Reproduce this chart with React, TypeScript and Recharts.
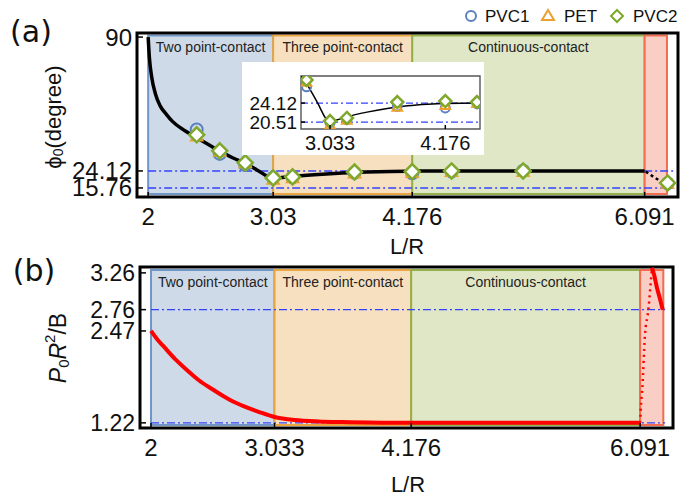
import React from "react";
import {
  ComposedChart,
  Line,
  Scatter,
  XAxis,
  YAxis,
  ReferenceArea,
  ReferenceLine,
} from "recharts";

// ---- data ----
// (a) contact angle curve
const curveX = [2.0, 2.01, 2.03, 2.06, 2.1, 2.15, 2.2, 2.3, 2.4, 2.5, 2.6, 2.7, 2.8, 2.9, 3.03, 3.1, 3.2, 3.4, 3.6, 3.8, 4.0, 4.176, 4.5, 5.0, 5.5, 6.091];
const curvePhi = [90, 80, 70, 62, 56, 52, 48.5, 44, 40.5, 37, 33.5, 30.5, 27.8, 24.5, 20.51, 20.9, 21.5, 22.4, 23.1, 23.6, 23.9, 24.05, 24.12, 24.12, 24.12, 24.12];
const tailX = [6.1, 6.14, 6.18, 6.22, 6.26];
const tailPhi = [23.8, 22.2, 20.6, 19.2, 18.3];

// experimental samples
const sampleX = [2.4, 2.59, 2.8, 3.03, 3.19, 3.7, 4.176, 4.5, 5.09, 6.28];
const pvc1Phi = [44.5, 32.5, 27.0, 20.8, 21.0, 23.2, 23.0, 23.8, 24.2, 18.0];
const petPhi = [41.0, 33.5, 27.8, 19.8, 20.5, 22.8, 23.0, 23.6, 23.6, 17.8];
const pvc2Phi = [41.9, 34.0, 28.1, 20.7, 21.2, 23.6, 23.8, 24.1, 24.1, 18.2];

// inset samples
const insetX = [2.8, 3.033, 3.2, 3.7, 4.176, 4.49];
const insetPvc1 = [27.2, 20.4, 21.0, 23.5, 23.2, 24.0];
const insetPet = [28.0, 19.9, 20.8, 23.3, 23.6, 24.0];
const insetPvc2 = [28.5, 20.7, 21.3, 24.3, 24.5, 24.3];

// (b) pressure curve
const pX = [2.0, 2.05, 2.1, 2.2, 2.3, 2.4, 2.5, 2.6, 2.7, 2.8, 2.9, 3.033, 3.1, 3.2, 3.4, 3.6, 4.0, 4.176, 5.0, 6.091];
const pVal = [2.47, 2.36, 2.27, 2.09, 1.94, 1.8, 1.69, 1.59, 1.5, 1.43, 1.37, 1.3, 1.28, 1.26, 1.24, 1.23, 1.222, 1.22, 1.22, 1.22];
const pDotX = [6.091, 6.1, 6.11, 6.13, 6.16, 6.18, 6.19];
const pDotVal = [1.22, 1.5, 1.7, 2.38, 2.76, 3.13, 3.33];
const pBranchX = [6.19, 6.21, 6.23, 6.255, 6.28];
const pBranchVal = [3.33, 3.22, 3.07, 2.92, 2.76];

// regimes
const edgesA = [2, 3.03, 4.176, 6.091, 6.275];
const edgesB = [2, 3.033, 4.176, 6.091, 6.285];
const regimeNames = ["Two point-contact", "Three point-contact", "Continuous-contact", ""];

const ticksXA = [2, 3.03, 4.176, 6.091];
const ticksXB = [2, 3.033, 4.176, 6.091];
const ticksYA = [15.76, 24.12, 90];
const ticksYB = [1.22, 2.47, 2.76, 3.26];
const ticksXInset = [3.033, 4.176];
const ticksYInset = [20.51, 24.12];
const guideA = [24.12, 15.76];
const guideB = [2.76, 1.22];
const guideInset = [24.12, 20.51];

// ---- styles ----
const NUM_FONT = "'Liberation Sans', Arial, sans-serif";
const NOTE_FONT = "'Liberation Sans', Arial, sans-serif";
const regimeFill = ["#cfdae9", "#f7e0bf", "#dfe7c6", "#f9cfc5"];
const regimeStroke = ["#7295c8", "#e9a53f", "#93b049", "#f26c4f"];
const GUIDE = "#3342ff";
const C_PVC1 = "#5b80c2";
const C_PET = "#eba12f";
const C_PVC2 = "#7fa82c";

const pts = (xs: number[], ys: number[]) => xs.map((x, i) => ({ x, y: ys[i] }));

const circleShape = (r: number) => (p: any) => (
  <circle cx={p.cx} cy={p.cy} r={r} fill="none" stroke={C_PVC1} strokeWidth={2} />
);
const triShape = (s: number) => (p: any) => (
  <polygon
    points={`${p.cx},${p.cy - s} ${p.cx - s * 0.95},${p.cy + s * 0.65} ${p.cx + s * 0.95},${p.cy + s * 0.65}`}
    fill="none"
    stroke={C_PET}
    strokeWidth={2}
  />
);
const diamondShape = (s: number) => (p: any) => (
  <polygon
    points={`${p.cx},${p.cy - s} ${p.cx + s},${p.cy} ${p.cx},${p.cy + s} ${p.cx - s},${p.cy}`}
    fill="#fff"
    stroke={C_PVC2}
    strokeWidth={2.5}
  />
);

const yTick = (size: number, gap: number, inward: number) => (p: any) => (
  <g>
    <text x={p.x} y={p.y} textAnchor="end" dominantBaseline="central" fontSize={size} fontFamily={NUM_FONT} fill="#111">
      {p.payload.value}
    </text>
    <line x1={p.x + gap} x2={p.x + gap + inward} y1={p.y} y2={p.y} stroke="#000" strokeWidth={1.5} />
  </g>
);
const xTick = (size: number, drop: number, inward: number) => (p: any) => (
  <g>
    <text x={p.x} y={p.y + drop} textAnchor="middle" fontSize={size} fontFamily={NUM_FONT} fill="#111">
      {p.payload.value}
    </text>
    <line x1={p.x} x2={p.x} y1={p.y} y2={p.y - inward} stroke="#000" strokeWidth={1.5} />
  </g>
);

function regimeAreas(edges: number[], y1: number, y2: number) {
  return regimeNames.map((name, i) => (
    <ReferenceArea
      key={"r" + i}
      x1={edges[i]}
      x2={edges[i + 1]}
      y1={y1}
      y2={y2}
      fill={regimeFill[i]}
      fillOpacity={1}
      stroke={regimeStroke[i]}
      strokeWidth={2}
      ifOverflow="visible"
      label={
        name
          ? { value: name, position: "insideTop", offset: 7, fill: "#222", fontSize: 14, fontFamily: NOTE_FONT }
          : undefined
      }
    />
  ));
}

const XDOM: [number, number] = [1.908, 6.366];

function PanelA() {
  return (
    <ComposedChart width={693} height={250} margin={{ top: 33, right: 15, bottom: 0, left: 0 }}>
      <XAxis
        type="number"
        dataKey="x"
        domain={XDOM}
        ticks={ticksXA}
        height={53}
        axisLine={false}
        tickLine={false}
        tickSize={0}
        tickMargin={0}
        interval={0}
        tick={xTick(24, 28, 5)}
        allowDataOverflow
      />
      <YAxis
        type="number"
        dataKey="y"
        domain={[11.3, 92]}
        ticks={ticksYA}
        width={137}
        axisLine={false}
        tickLine={false}
        tickSize={0}
        tickMargin={5}
        interval={0}
        tick={yTick(24, 5, 6)}
        allowDataOverflow
      />
      {regimeAreas(edgesA, 12.8, 90.8)}
      {guideA.map((g) => (
        <ReferenceLine
          key={"g" + g}
          segment={[{ x: 2, y: g }, { x: 6.33, y: g }]}
          stroke={GUIDE}
          strokeWidth={1.4}
          strokeDasharray="8 3 2 3"
        />
      ))}
      <ReferenceArea x1={XDOM[0]} x2={XDOM[1]} y1={11.3} y2={92} fill="none" stroke="#000" strokeWidth={3} ifOverflow="visible" />
      <Line data={pts(curveX, curvePhi)} dataKey="y" type="monotone" stroke="#000" strokeWidth={3.5} dot={false} isAnimationActive={false} />
      <Line data={pts(tailX, tailPhi)} dataKey="y" type="linear" stroke="#000" strokeWidth={2.5} strokeDasharray="3 3" dot={false} isAnimationActive={false} />
      <Scatter data={pts(sampleX, pvc1Phi)} dataKey="y" shape={circleShape(6)} isAnimationActive={false} />
      <Scatter data={pts(sampleX, petPhi)} dataKey="y" shape={triShape(6)} isAnimationActive={false} />
      <Scatter data={pts(sampleX, pvc2Phi)} dataKey="y" shape={diamondShape(7.5)} isAnimationActive={false} />
    </ComposedChart>
  );
}

function Inset() {
  const dom: [number, number] = [2.745, 4.52];
  return (
    <ComposedChart width={242} height={93} margin={{ top: 14, right: 4, bottom: 0, left: 0 }}>
      <XAxis
        type="number"
        dataKey="x"
        domain={dom}
        ticks={ticksXInset}
        height={26}
        axisLine={false}
        tickLine={false}
        tickSize={0}
        tickMargin={0}
        interval={0}
        tick={xTick(20, 21, 4)}
        allowDataOverflow
      />
      <YAxis
        type="number"
        dataKey="y"
        domain={[19.2, 29.25]}
        ticks={ticksYInset}
        width={59}
        axisLine={false}
        tickLine={false}
        tickSize={0}
        tickMargin={4}
        interval={0}
        tick={yTick(19, 4, 4)}
        allowDataOverflow
      />
      {guideInset.map((g) => (
        <ReferenceLine key={"gi" + g} y={g} stroke={GUIDE} strokeWidth={1.2} strokeDasharray="7 3 2 3" />
      ))}
      <ReferenceArea x1={dom[0]} x2={dom[1]} y1={19.2} y2={29.25} fill="none" stroke="#555" strokeWidth={1.4} ifOverflow="visible" />
      <Line data={pts(curveX, curvePhi)} dataKey="y" type="monotone" stroke="#000" strokeWidth={1.5} dot={false} isAnimationActive={false} />
      <Scatter data={pts(insetX, insetPvc1)} dataKey="y" shape={circleShape(4.5)} isAnimationActive={false} />
      <Scatter data={pts(insetX, insetPet)} dataKey="y" shape={triShape(5)} isAnimationActive={false} />
      <Scatter data={pts(insetX, insetPvc2)} dataKey="y" shape={diamondShape(6)} isAnimationActive={false} />
    </ComposedChart>
  );
}

function PanelB() {
  return (
    <ComposedChart width={693} height={248} margin={{ top: 17, right: 20, bottom: 0, left: 0 }}>
      <XAxis
        type="number"
        dataKey="x"
        domain={XDOM}
        ticks={ticksXB}
        height={70}
        axisLine={false}
        tickLine={false}
        tickSize={0}
        tickMargin={0}
        interval={0}
        tick={xTick(24, 28, 5)}
        allowDataOverflow
      />
      <YAxis
        type="number"
        dataKey="y"
        domain={[1.15, 3.34]}
        ticks={ticksYB}
        width={140}
        axisLine={false}
        tickLine={false}
        tickSize={0}
        tickMargin={5}
        interval={0}
        tick={yTick(23, 5, 6)}
        allowDataOverflow
      />
      {regimeAreas(edgesB, 1.19, 3.3)}
      {guideB.map((g) => (
        <ReferenceLine
          key={"gb" + g}
          segment={[{ x: 2, y: g }, { x: 6.3, y: g }]}
          stroke={GUIDE}
          strokeWidth={1.4}
          strokeDasharray="8 3 2 3"
        />
      ))}
      <ReferenceArea x1={XDOM[0]} x2={XDOM[1]} y1={1.15} y2={3.34} fill="none" stroke="#000" strokeWidth={3} ifOverflow="visible" />
      <Line data={pts(pX, pVal)} dataKey="y" type="monotone" stroke="#ff0000" strokeWidth={4} dot={false} isAnimationActive={false} />
      <Line data={pts(pDotX, pDotVal)} dataKey="y" type="monotone" stroke="#ff0000" strokeWidth={2.5} strokeDasharray="2 4" dot={false} isAnimationActive={false} />
      <Line data={pts(pBranchX, pBranchVal)} dataKey="y" type="monotone" stroke="#ff0000" strokeWidth={4} dot={false} isAnimationActive={false} />
    </ComposedChart>
  );
}

export default function App() {
  return (
    <div style={{ position: "absolute", left: 0, top: 0, width: 693, height: 498, background: "#fff", overflow: "hidden" }}>
      <div style={{ position: "absolute", left: 0, top: 0 }}>
        <PanelA />
      </div>
      <div style={{ position: "absolute", left: 242, top: 62, width: 242, height: 93, background: "#fff" }}>
        <Inset />
      </div>
      <div style={{ position: "absolute", left: 0, top: 250 }}>
        <PanelB />
      </div>
      <svg width={693} height={498} style={{ position: "absolute", left: 0, top: 0, pointerEvents: "none" }}>
        <g fontFamily="'DejaVu Sans', sans-serif" fontSize={30} fill="#111">
          <text x={31} y={31} textAnchor="middle" dominantBaseline="central">(a)</text>
          <text x={34} y={270} textAnchor="middle" dominantBaseline="central">(b)</text>
        </g>
        <g fontFamily={NUM_FONT} fill="#111">
          <text x={407} y={254} textAnchor="middle" fontSize={22}>L/R</text>
          <text x={408} y={492} textAnchor="middle" fontSize={22}>L/R</text>
          <text transform="rotate(-90 53 117)" x={53} y={117} textAnchor="middle" dominantBaseline="central" fontSize={22}>
            ϕ<tspan fontSize={14} dy={5}>0</tspan><tspan dy={-5}>(degree)</tspan>
          </text>
          <text transform="rotate(-90 58 348)" x={58} y={348} textAnchor="middle" dominantBaseline="central" fontSize={23}>
            <tspan fontStyle="italic">P</tspan><tspan fontSize={15} dy={5}>0</tspan><tspan fontStyle="italic" dy={-5}>R</tspan><tspan fontSize={15} dy={-9}>2</tspan><tspan dy={9}>/B</tspan>
          </text>
        </g>
        <g fontFamily={NUM_FONT} fontSize={17} fill="#111">
          <circle cx={471} cy={16} r={5} fill="none" stroke={C_PVC1} strokeWidth={2} />
          <text x={485} y={16} dominantBaseline="central">PVC1</text>
          <polygon points="548,10 542,20 554,20" fill="none" stroke={C_PET} strokeWidth={2} />
          <text x={564} y={16} dominantBaseline="central">PET</text>
          <polygon points="617,10 623,16 617,22 611,16" fill="none" stroke={C_PVC2} strokeWidth={2} />
          <text x={633} y={16} dominantBaseline="central">PVC2</text>
        </g>
      </svg>
    </div>
  );
}
